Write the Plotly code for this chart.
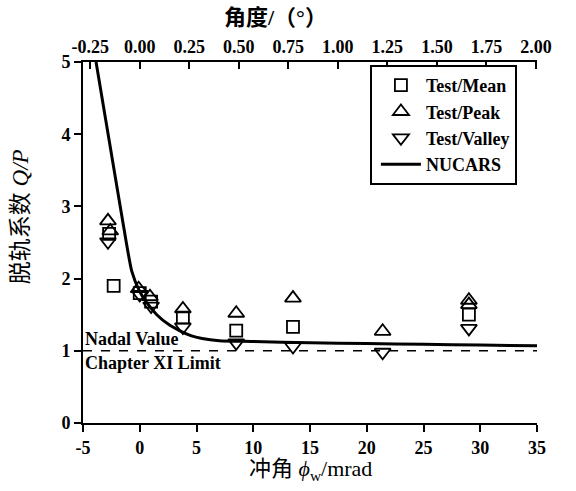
import math
import plotly.graph_objects as go

# Wheel attack angle (mrad) and derailment coefficient Q/P from tests
mean_x = [-2.7, -2.3, 0.0, 1.0, 3.8, 8.5, 13.5, 29.0]
mean_y = [2.62, 1.90, 1.80, 1.68, 1.46, 1.28, 1.33, 1.50]

peak_x = [-2.8, -2.6, -0.1, 0.9, 3.8, 8.5, 13.5, 21.4, 29.0, 29.0]
peak_y = [2.80, 2.66, 1.86, 1.75, 1.58, 1.52, 1.73, 1.27, 1.70, 1.64]

valley_x = [-2.8, 0.0, 1.0, 3.8, 8.5, 13.5, 21.4, 29.0]
valley_y = [2.51, 1.78, 1.62, 1.33, 1.11, 1.06, 0.98, 1.31]

# NUCARS simulation curve
nucars_x = [-3.85, -3.0, -2.2, -1.4, -0.7, 0.0, 0.6, 1.5, 2.5, 3.5, 4.5, 5.5,
            7.0, 10.0, 15.0, 20.0, 25.0, 30.0, 35.0]
nucars_y = [5.0, 4.2, 3.45, 2.7, 2.1, 1.82, 1.67, 1.50, 1.37, 1.28, 1.21, 1.17,
            1.14, 1.13, 1.11, 1.10, 1.09, 1.08, 1.07]

limit_value = 1.0
x_range = [-5, 35]
y_range = [0, 5]
x_ticks = [-5, 0, 5, 10, 15, 20, 25, 30, 35]
y_ticks = [0, 1, 2, 3, 4, 5]
deg_ticks = [-0.25, 0.0, 0.25, 0.5, 0.75, 1.0, 1.25, 1.5, 1.75, 2.0]

SERIF = "Liberation Serif, Times New Roman, Noto Sans CJK SC, serif"
deg_range = [v / 1000.0 * 180.0 / math.pi for v in x_range]

fig = go.Figure()
marker_line = dict(color="black", width=1.8)
fig.add_trace(go.Scatter(x=mean_x, y=mean_y, mode="markers", name="Test/Mean",
                         marker=dict(symbol="square-open", size=12, color="black",
                                     line=marker_line)))
fig.add_trace(go.Scatter(x=peak_x, y=peak_y, mode="markers", name="Test/Peak",
                         marker=dict(symbol="triangle-up-open", size=14, color="black",
                                     line=marker_line)))
fig.add_trace(go.Scatter(x=valley_x, y=valley_y, mode="markers", name="Test/Valley",
                         marker=dict(symbol="triangle-down-open", size=14, color="black",
                                     line=marker_line)))
fig.add_trace(go.Scatter(x=nucars_x, y=nucars_y, mode="lines", name="NUCARS",
                         line=dict(color="black", width=3, shape="spline", smoothing=0.6)))
# anchor trace so the degree scale on top is rendered
fig.add_trace(go.Scatter(x=deg_range, y=[-1, -1], xaxis="x2", yaxis="y",
                         mode="markers", marker=dict(opacity=0), showlegend=False,
                         hoverinfo="skip"))

fig.add_shape(type="line", xref="x", yref="y", x0=x_range[0], x1=x_range[1],
              y0=limit_value, y1=limit_value,
              line=dict(color="black", width=1.5, dash="dash"))

label_font = dict(family=SERIF, size=18, color="black", weight="bold")
fig.add_annotation(x=x_range[0], y=limit_value, xref="x", yref="y", text="Nadal Value",
                   showarrow=False, xanchor="left", yanchor="bottom",
                   font=label_font)
fig.add_annotation(x=x_range[0], y=limit_value, xref="x", yref="y", text="Chapter XI Limit",
                   showarrow=False, xanchor="left", yanchor="top",
                   font=label_font)

# axis titles
fig.add_annotation(x=0.5, y=-0.13, xref="paper", yref="paper",
                   text="冲角 <i>ϕ</i><sub>w</sub>/mrad", showarrow=False,
                   xanchor="center", yanchor="middle",
                   font=dict(family=SERIF, size=22, color="black"))
fig.add_annotation(x=-0.136, y=0.571, xref="paper", yref="paper",
                   text="脱轨系数 <i>Q/P</i>", showarrow=False, textangle=-90,
                   xanchor="center", yanchor="middle",
                   font=dict(family=SERIF, size=23, color="black"))
fig.add_annotation(x=0.425, y=1.122, xref="paper", yref="paper",
                   text="角度/（°）", showarrow=False,
                   xanchor="center", yanchor="middle",
                   font=dict(family=SERIF, size=22, color="black", weight="bold"))

tick_font = dict(family=SERIF, size=18, color="black", weight="bold")
fig.update_layout(
    width=576, height=491,
    margin=dict(l=83, r=39, t=62, b=68),
    paper_bgcolor="white", plot_bgcolor="white",
    showlegend=True,
    legend=dict(x=0.632, y=0.992, xanchor="left", yanchor="top",
                bgcolor="white", bordercolor="black", borderwidth=2,
                font=dict(family=SERIF, size=18, color="black", weight="bold"),
                tracegroupgap=0, itemwidth=40, indentation=4),
    xaxis=dict(range=x_range, tickvals=x_ticks, ticktext=[str(v) for v in x_ticks],
               ticks="outside", ticklen=7,
               tickwidth=2, tickcolor="black", showline=True, linewidth=2,
               linecolor="black", showgrid=False, zeroline=False,
               tickfont=tick_font),
    xaxis2=dict(range=deg_range, overlaying="x", side="top", anchor="y",
                tickvals=deg_ticks, ticktext=["%.2f" % v for v in deg_ticks],
                ticks="inside", ticklen=7, tickwidth=2, tickcolor="black",
                showline=True, linewidth=2, linecolor="black",
                showgrid=False, zeroline=False, tickfont=tick_font),
    yaxis=dict(range=y_range, tickvals=y_ticks, ticks="outside", ticklen=7,
               tickwidth=2, tickcolor="black", showline=True, linewidth=2,
               linecolor="black", showgrid=False, zeroline=False,
               tickfont=tick_font),
    yaxis2=dict(range=y_range, tickvals=y_ticks, overlaying="y", side="right",
                anchor="x", ticks="inside", ticklen=7, tickwidth=2,
                tickcolor="black", showline=True, linewidth=2, linecolor="black",
                showgrid=False, zeroline=False, showticklabels=False),
)

fig.write_html("out.html")
